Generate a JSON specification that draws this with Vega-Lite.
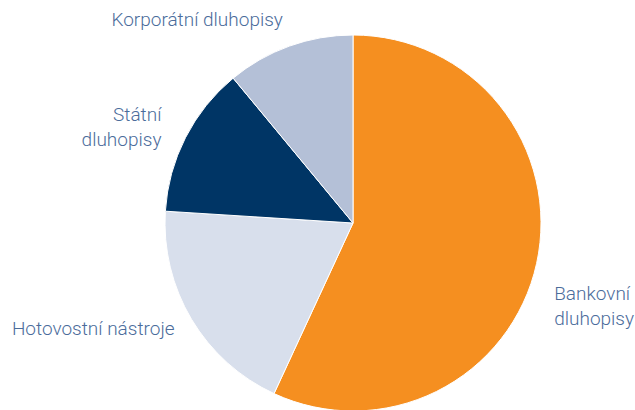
{
  "$schema": "https://vega.github.io/schema/vega-lite/v6.json",
  "autosize": "none",
  "width": 564,
  "height": 374,
  "padding": {"left": 71, "top": 36, "right": 0, "bottom": 0},
  "background": "#ffffff",
  "view": {"stroke": null},
  "data": {
    "values": [
      {"category": "Bankovní dluhopisy", "label": "Bankovní\ndluhopisy", "value": 56.9, "order": 1},
      {"category": "Hotovostní nástroje", "label": "Hotovostní nástroje", "value": 19.1, "order": 2},
      {"category": "Státní dluhopisy", "label": "Státní\ndluhopisy", "value": 13.0, "order": 3},
      {"category": "Korporátní dluhopisy", "label": "Korporátní dluhopisy", "value": 11.0, "order": 4}
    ]
  },
  "encoding": {
    "theta": {"field": "value", "type": "quantitative", "stack": true},
    "order": {"field": "order", "type": "quantitative"}
  },
  "layer": [
    {
      "mark": {"type": "arc", "outerRadius": 188, "stroke": "#ffffff", "strokeWidth": 1},
      "encoding": {
        "color": {
          "field": "category",
          "type": "nominal",
          "scale": {
            "domain": ["Bankovní dluhopisy", "Hotovostní nástroje", "Státní dluhopisy", "Korporátní dluhopisy"],
            "range": ["#F58F20", "#D8DFEC", "#003565", "#B4C0D7"]
          },
          "legend": null
        }
      }
    },
    {
      "mark": {"type": "text", "radius": 206, "align": "left", "baseline": "alphabetic", "dy": 33, "font": "Roboto", "fontWeight": 300, "fontSize": 19, "lineHeight": 25, "lineBreak": "\n", "color": "#4B6C9B"},
      "encoding": {
        "text": {"condition": {"test": "datum.category === 'Bankovní dluhopisy'", "field": "label"}, "value": ""}
      }
    },
    {
      "mark": {"type": "text", "radius": 210, "align": "right", "baseline": "alphabetic", "dx": 2, "dy": 4.5, "font": "Roboto", "fontWeight": 300, "fontSize": 19, "lineHeight": 25, "lineBreak": "\n", "color": "#4B6C9B"},
      "encoding": {
        "text": {"condition": {"test": "datum.category === 'Hotovostní nástroje'", "field": "label"}, "value": ""}
      }
    },
    {
      "mark": {"type": "text", "radius": 215, "align": "right", "baseline": "alphabetic", "dx": 0, "dy": -4, "font": "Roboto", "fontWeight": 300, "fontSize": 19, "lineHeight": 25, "lineBreak": "\n", "color": "#4B6C9B"},
      "encoding": {
        "text": {"condition": {"test": "datum.category === 'Státní dluhopisy'", "field": "label"}, "value": ""}
      }
    },
    {
      "mark": {"type": "text", "radius": 210, "align": "right", "baseline": "alphabetic", "dx": 1, "dy": 1, "font": "Roboto", "fontWeight": 300, "fontSize": 19, "lineHeight": 25, "lineBreak": "\n", "color": "#4B6C9B"},
      "encoding": {
        "text": {"condition": {"test": "datum.category === 'Korporátní dluhopisy'", "field": "label"}, "value": ""}
      }
    }
  ]
}
